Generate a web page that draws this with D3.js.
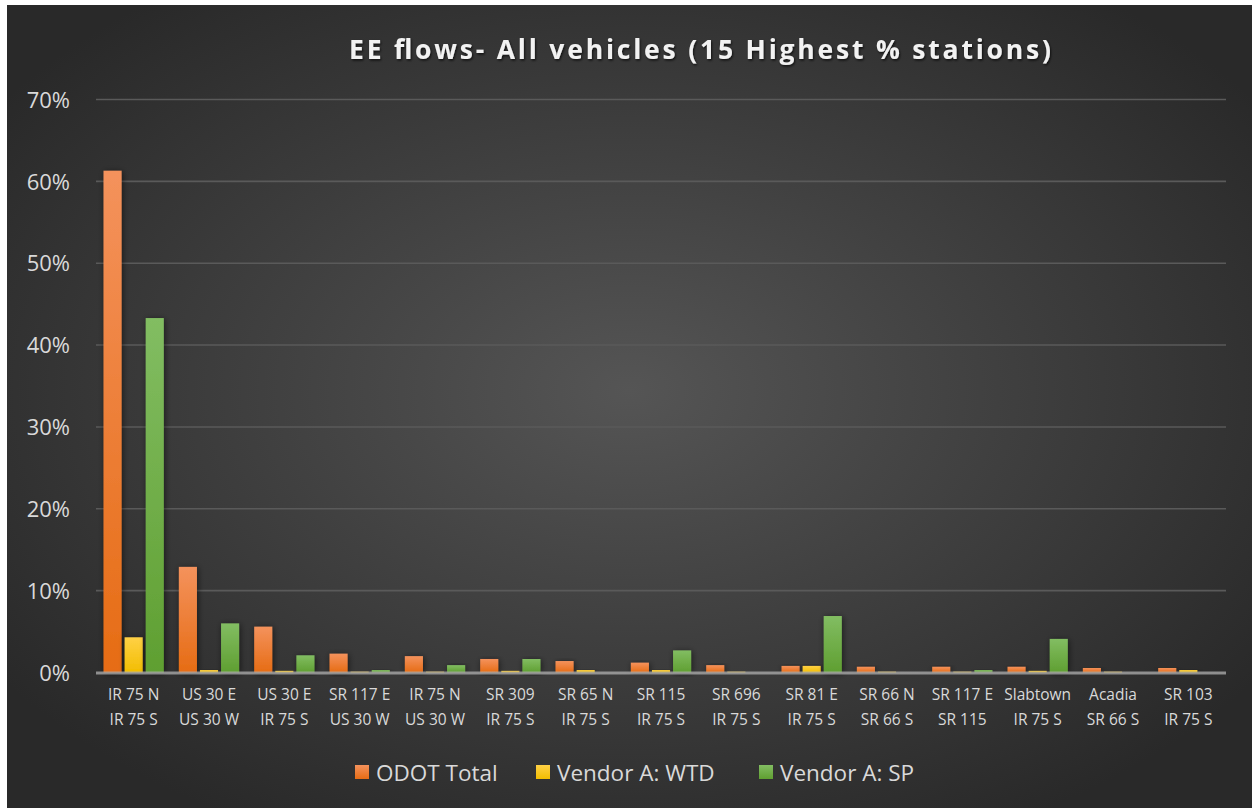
<!DOCTYPE html>
<html>
<head>
<meta charset="utf-8">
<script src="https://cdn.jsdelivr.net/npm/d3@7"></script>
<style>
  html, body { margin: 0; padding: 0; background: #ffffff; }
  svg { display: block; }
</style>
</head>
<body>
<svg id="chart" width="1252" height="808"></svg>
<script>
// Station pairs (two-line labels) and the share of EE flows per source
const stationTop    = ["IR 75 N", "US 30 E", "US 30 E", "SR 117 E", "IR 75 N", "SR 309", "SR 65 N", "SR 115", "SR 696", "SR 81 E", "SR 66 N", "SR 117 E", "Slabtown", "Acadia", "SR 103"];
const stationBottom = ["IR 75 S", "US 30 W", "IR 75 S", "US 30 W", "US 30 W", "IR 75 S", "IR 75 S", "IR 75 S", "IR 75 S", "IR 75 S", "SR 66 S", "SR 115", "IR 75 S", "SR 66 S", "IR 75 S"];

const seriesNames = ["ODOT Total", "Vendor A: WTD", "Vendor A: SP"];
const odotTotal = [0.613, 0.129, 0.056, 0.023, 0.020, 0.0165, 0.014, 0.012, 0.009, 0.008, 0.007, 0.007, 0.007, 0.0055, 0.0055];
const vendorWTD = [0.043, 0.003, 0.002, 0.001, 0.001, 0.002, 0.003, 0.003, 0.001, 0.008, 0.001, 0.001, 0.002, 0.001, 0.003];
const vendorSP  = [0.433, 0.060, 0.021, 0.003, 0.009, 0.0165, 0.000, 0.027, 0.000, 0.069, 0.000, 0.003, 0.041, 0.000, 0.000];

const yTicks = [0, 0.1, 0.2, 0.3, 0.4, 0.5, 0.6, 0.7];
const chartTitle = "EE flows- All vehicles (15 Highest % stations)";

const W = 1252, H = 808;
const svg = d3.select("#chart");
const defs = svg.append("defs");

// Dark radial backdrop
const bg = defs.append("radialGradient").attr("id", "bgGrad")
  .attr("cx", "0.5").attr("cy", "0.48").attr("r", "0.62");
bg.append("stop").attr("offset", "0%").attr("stop-color", "#555555");
bg.append("stop").attr("offset", "100%").attr("stop-color", "#292929");

// Per-bar vertical gradients
const fills = [
  ["#f4925c", "#e66c14"],
  ["#ffd146", "#f2bd00"],
  ["#82bd62", "#5f9f31"]
];
fills.forEach((c, i) => {
  const g = defs.append("linearGradient").attr("id", "barGrad" + i)
    .attr("x1", 0).attr("y1", 0).attr("x2", 0).attr("y2", 1);
  g.append("stop").attr("offset", "0%").attr("stop-color", c[0]);
  g.append("stop").attr("offset", "100%").attr("stop-color", c[1]);
});

const shadow = defs.append("filter").attr("id", "barShadow")
  .attr("x", "-60%").attr("y", "-20%").attr("width", "220%").attr("height", "140%");
shadow.append("feDropShadow").attr("dx", 1).attr("dy", 1)
  .attr("stdDeviation", 3).attr("flood-color", "#000").attr("flood-opacity", 0.55);

const titleShadow = defs.append("filter").attr("id", "textShadow")
  .attr("x", "-10%").attr("y", "-40%").attr("width", "120%").attr("height", "180%");
titleShadow.append("feDropShadow").attr("dx", 1).attr("dy", 1.5)
  .attr("stdDeviation", 1.2).attr("flood-color", "#000").attr("flood-opacity", 0.7);

svg.append("rect").attr("x", 7).attr("y", 5).attr("width", W - 7).attr("height", H - 5)
  .attr("fill", "url(#bgGrad)");

// Scales
const plotLeft = 96, plotRight = 1226;
const x = d3.scaleBand().domain(d3.range(stationTop.length))
  .range([plotLeft, plotRight]).paddingInner(0.2).paddingOuter(0.1);
const xs = d3.scaleBand().domain(d3.range(seriesNames.length))
  .range([0, x.bandwidth()]).paddingInner(0.143).paddingOuter(0);
const y = d3.scaleLinear().domain([0, 0.7]).range([672.5, 99.5]);

// Gridlines
svg.append("g").selectAll("line").data(yTicks.filter(d => d > 0)).join("line")
  .attr("x1", plotLeft).attr("x2", plotRight)
  .attr("y1", d => y(d)).attr("y2", d => y(d))
  .attr("stroke", "#5a5a5a").attr("stroke-width", 1.6);

// Y axis labels
const yAxis = d3.axisLeft(y).tickValues(yTicks).tickFormat(d3.format(".0%")).tickSize(0).tickPadding(0);
const yG = svg.append("g").attr("transform", "translate(70,0)").call(yAxis);
yG.select(".domain").remove();
yG.selectAll("text")
  .attr("fill", "#d9d9d9").attr("font-family", "'Open Sans', sans-serif").attr("font-size", 22)
  .attr("dy", "0.35em");

// Bars
const seriesData = [odotTotal, vendorWTD, vendorSP];
const groups = svg.append("g").selectAll("g").data(stationTop).join("g")
  .attr("transform", (d, i) => `translate(${x(i)},0)`);
groups.selectAll("rect")
  .data((d, i) => seriesData.map((s, k) => ({ k, v: s[i] })).filter(e => e.v > 0))
  .join("rect")
  .attr("x", e => xs(e.k))
  .attr("width", xs.bandwidth())
  .attr("y", e => y(e.v))
  .attr("height", e => y(0) - y(e.v))
  .attr("fill", e => `url(#barGrad${e.k})`)
  .attr("filter", "url(#barShadow)");

// Baseline
svg.append("line")
  .attr("x1", plotLeft).attr("x2", plotRight)
  .attr("y1", y(0) + 0.5).attr("y2", y(0) + 0.5)
  .attr("stroke", "#b0b0b0").attr("stroke-opacity", 0.75).attr("stroke-width", 3);

// X axis labels (two lines)
const xAxis = d3.axisBottom(x).tickFormat("").tickSize(0);
const xG = svg.append("g").attr("transform", `translate(0,${y(0)})`).call(xAxis);
xG.select(".domain").remove();
xG.selectAll(".tick").each(function (d) {
  const t = d3.select(this).append("text")
    .attr("fill", "#d9d9d9").attr("font-family", "'Open Sans', sans-serif")
    .attr("font-size", 15.5).attr("text-anchor", "middle");
  t.append("tspan").attr("x", 0).attr("y", 27).text(stationTop[d]);
  t.append("tspan").attr("x", 0).attr("y", 52).text(stationBottom[d]);
});

// Title
svg.append("text")
  .attr("x", 700).attr("y", 59)
  .attr("text-anchor", "middle")
  .attr("fill", "#f2f2f2")
  .attr("font-family", "'Open Sans', sans-serif").attr("font-weight", 700)
  .attr("font-size", 26.5)
  .attr("textLength", 702).attr("lengthAdjust", "spacing")
  .attr("filter", "url(#textShadow)")
  .text(chartTitle);

// Legend
const legendX = [355, 536, 759];
const legend = svg.append("g").selectAll("g").data(seriesNames).join("g")
  .attr("transform", (d, i) => `translate(${legendX[i]},764)`);
legend.append("rect").attr("width", 14).attr("height", 14).attr("y", 1)
  .attr("fill", (d, i) => `url(#barGrad${i})`);
legend.append("text").attr("x", 21).attr("y", 16.5)
  .attr("fill", "#d9d9d9").attr("font-family", "'Open Sans', sans-serif").attr("font-size", 22.5)
  .text(d => d);
</script>
</body>
</html>
